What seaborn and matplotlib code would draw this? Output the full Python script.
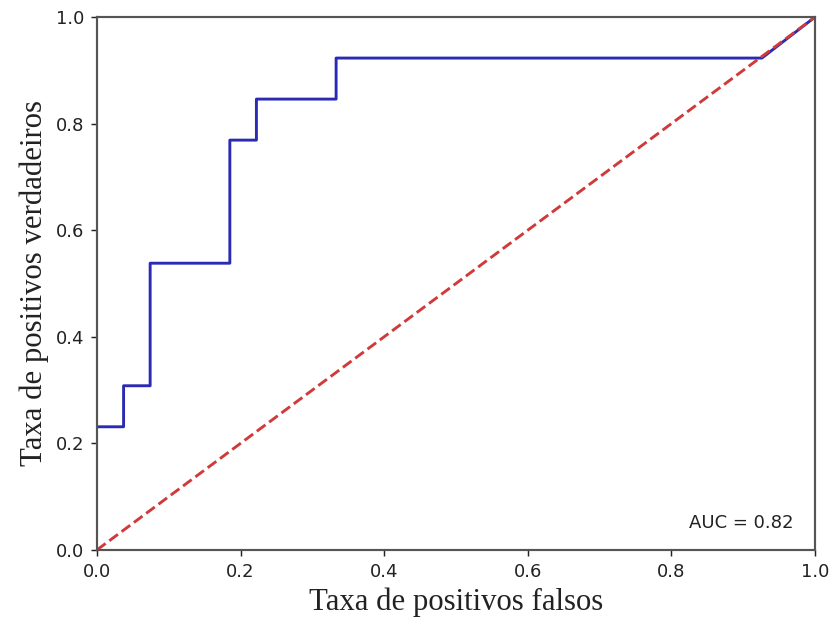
import pandas as pd
import numpy as np
import seaborn as sns
import matplotlib
matplotlib.use('Agg')
import matplotlib.pyplot as plt

# ROC points (13 positives, 27 negatives)
fpr = [0.0, 0.037, 0.037, 0.074, 0.074, 0.185, 0.185,
       0.222, 0.222, 0.333, 0.333, 0.926, 1.0]
tpr = [0.231, 0.231, 0.308, 0.308, 0.538, 0.538, 0.769,
       0.769, 0.846, 0.846, 0.923, 0.923, 1.0]
auc_value = 0.82
diag = [0.0, 1.0]

df_roc = pd.DataFrame({'fpr': fpr, 'tpr': tpr})

sns.set_style('ticks')

fig, ax = plt.subplots(figsize=(6.4, 4.8), dpi=130)
fig.subplots_adjust(left=0.1166, right=0.9796, bottom=0.1188, top=0.9727)

sns.lineplot(
    data=df_roc, x='fpr', y='tpr',
    sort=False, estimator=None,
    color='#2a2ab4', linewidth=1.6, ax=ax
)
sns.lineplot(
    x=diag, y=diag,
    color='#d03a3a', linewidth=1.6, linestyle='--', ax=ax
)

ax.set_xlim(0, 1)
ax.set_ylim(0, 1)
ax.set_xticks(np.arange(0, 1.01, 0.2))
ax.set_yticks(np.arange(0, 1.01, 0.2))
ax.tick_params(labelsize=10, colors='#222222')

ax.set_xlabel('Taxa de positivos falsos', fontsize=17,
              family='Liberation Serif', color='#222222')
ax.set_ylabel('Taxa de positivos verdadeiros', fontsize=17,
              family='Liberation Serif', color='#222222')

for side in ['top', 'right', 'left', 'bottom']:
    ax.spines[side].set_visible(True)
    ax.spines[side].set_color('#555555')
    ax.spines[side].set_linewidth(1.2)

ax.text(0.97, 0.05, f'AUC = {auc_value:.2f}', transform=ax.transAxes,
        ha='right', va='center', fontsize=10, color='#222222')

plt.savefig('out.png', dpi=130)
